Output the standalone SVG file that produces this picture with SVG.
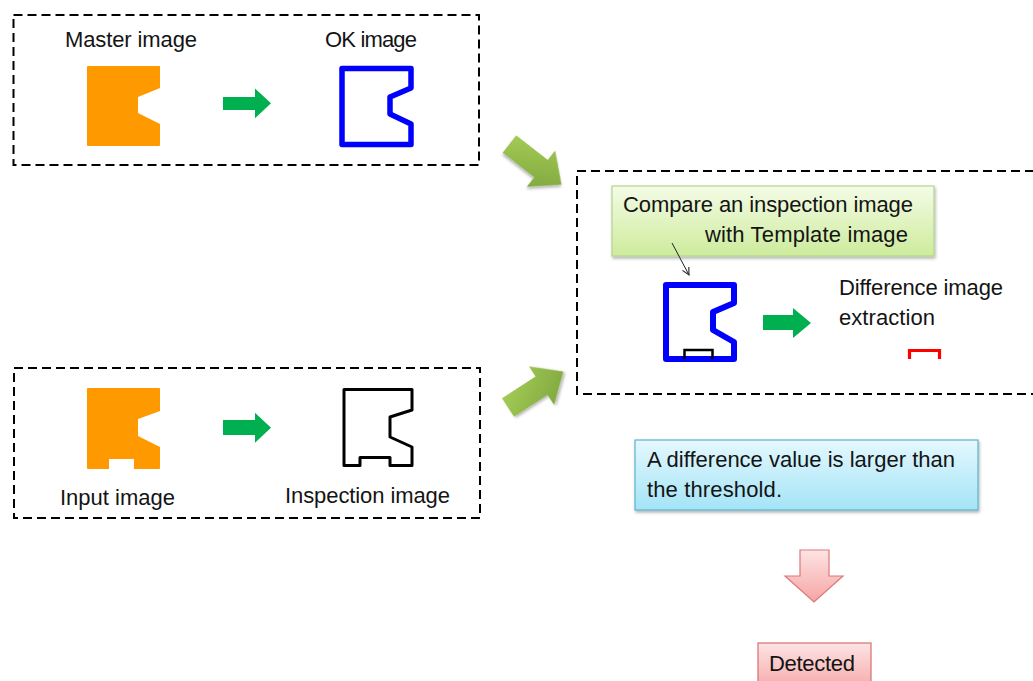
<svg xmlns="http://www.w3.org/2000/svg" width="1033" height="681" viewBox="0 0 1033 681">
  <style>
    .lbl { font-family: "Liberation Sans", Arial, sans-serif; font-size: 22px; fill: #141414; }
    .frame { fill: none; stroke: #000; stroke-width: 2; stroke-dasharray: 9 5; }
    .part { fill: #ff9900; }
    .flow { fill: #00b050; }
    .big { fill: url(#gGreen); filter: url(#soft); }
  </style>
  <defs>
    <linearGradient id="gGreen" x1="0" y1="0" x2="1" y2="1">
      <stop offset="0" stop-color="#a9d15a"/>
      <stop offset="1" stop-color="#79a13a"/>
    </linearGradient>
    <linearGradient id="gNote" x1="0" y1="0" x2="0" y2="1">
      <stop offset="0" stop-color="#f4fce6"/>
      <stop offset="1" stop-color="#cdeb9c"/>
    </linearGradient>
    <linearGradient id="gCyan" x1="0" y1="0" x2="0" y2="1">
      <stop offset="0" stop-color="#e4f8fe"/>
      <stop offset="1" stop-color="#a4e4f7"/>
    </linearGradient>
    <linearGradient id="gPink" x1="0" y1="0" x2="0" y2="1">
      <stop offset="0" stop-color="#fde4e4"/>
      <stop offset="1" stop-color="#f6a4a4"/>
    </linearGradient>
    <filter id="soft" x="-20%" y="-20%" width="140%" height="140%">
      <feDropShadow dx="1" dy="2" stdDeviation="1.5" flood-color="#000" flood-opacity="0.3"/>
    </filter>
    <marker id="open" viewBox="0 0 10 10" refX="9" refY="5" markerWidth="9" markerHeight="9" orient="auto" markerUnits="userSpaceOnUse">
      <path d="M1,1 L9,5 L1,9" fill="none" stroke="#222" stroke-width="1.2"/>
    </marker>
  </defs>

  <!-- template preparation panel -->
  <g id="panel-template">
    <rect class="frame" x="13.5" y="15" width="465.5" height="150"/>
    <g id="master-image">
      <text class="lbl" x="65" y="47" textLength="132">Master image</text>
      <path class="part" d="M88,66 H159.5 Q160,66 160,67 V88 L138,97 V113 L160,124 V145 Q160,146 159,146 H88 Q87,146 87,145 V67 Q87,66 88,66 Z"/>
    </g>
    <g id="ok-image">
      <text class="lbl" x="325" y="47" textLength="92">OK image</text>
      <path d="M342,68.5 H411 V88 L390,97 V114 L411,124 V144.5 H342 Z" fill="none" stroke="#0000ff" stroke-width="5.5" stroke-linejoin="round"/>
    </g>
  </g>

  <!-- inspection input panel -->
  <g id="panel-input">
    <rect class="frame" x="14" y="368" width="466" height="150"/>
    <g id="input-image">
      <path class="part" d="M88,388 H159 Q160,388 160,389 V411 L138,419 V436 L160,447 V468 Q160,469 159,469 H134 V459 H109 V469 H88 Q87,469 87,468 V389 Q87,388 88,388 Z"/>
      <text class="lbl" x="60" y="505" textLength="115">Input image</text>
    </g>
    <g id="inspection-image">
      <path d="M344,389.5 H412 V410 L390,417 V437 L412,447 V465.5 H390 V457.5 H360 V465.5 H344 Z" fill="none" stroke="#000" stroke-width="3" stroke-linejoin="round"/>
      <text class="lbl" x="285" y="503" textLength="165">Inspection image</text>
    </g>
  </g>

  <!-- comparison panel -->
  <g id="panel-compare">
    <rect class="frame" x="577" y="171" width="470" height="223"/>
    <g id="compare-note">
      <rect x="612" y="186" width="322" height="70" fill="url(#gNote)" stroke="#b3d68a" stroke-width="1.2" filter="url(#soft)"/>
      <text class="lbl" x="623" y="212" textLength="290">Compare an inspection image</text>
      <text class="lbl" x="705" y="242" textLength="203">with Template image</text>
    </g>
    <g id="template-image">
      <path d="M666,285 H734 V303 L713,312 V330 L734,342 V359 H666 Z" fill="none" stroke="#0000ff" stroke-width="6" stroke-linejoin="round"/>
      <path d="M684.5,359 V350 H712.5 V359" fill="none" stroke="#000" stroke-width="2.5"/>
    </g>
    <g id="difference-image">
      <text class="lbl" x="839" y="295" textLength="164">Difference image</text>
      <text class="lbl" x="839" y="325" textLength="96">extraction</text>
      <path d="M909.5,359 V350.5 H939.5 V359" fill="none" stroke="#ff0000" stroke-width="3.2"/>
    </g>
  </g>

  <!-- threshold condition -->
  <g id="threshold">
    <rect x="635" y="440" width="343" height="70" fill="url(#gCyan)" stroke="#5db3cc" stroke-width="1.2" filter="url(#soft)"/>
    <text class="lbl" x="647" y="467" textLength="308">A difference value is larger than</text>
    <text class="lbl" x="647" y="497" textLength="135">the threshold.</text>
  </g>

  <!-- result -->
  <g id="detected">
    <rect x="758" y="643" width="113" height="50" fill="url(#gPink)" stroke="#d86e6e" stroke-width="1.2"/>
    <text class="lbl" x="769" y="671" textLength="86">Detected</text>
  </g>

  <!-- flow arrows -->
  <g id="connectors">
    <path class="flow" d="M223,97 H255 V88.5 L271,103.3 L255,118.3 V110 H223 Z"/>
    <path class="flow" d="M223,420 H255 V412.7 L271,427.7 L255,442.7 V435 H223 Z"/>
    <path class="flow" d="M763,315 H793 V308 L811,323 L793,338 V330 H763 Z"/>
    <path class="big" transform="translate(509.5,144) rotate(38)" d="M0,-11 H40 V-23 L66,0 L40,23 V11 H0 Z"/>
    <path class="big" transform="translate(508,407.5) rotate(-33)" d="M0,-11 H40 V-23 L66,0 L40,23 V11 H0 Z"/>
    <line x1="672" y1="243" x2="689" y2="275" stroke="#222" stroke-width="1" marker-end="url(#open)"/>
    <path d="M800,550 H829 V576 H843 L814,602 L785,576 H800 Z" fill="url(#gPink)" stroke="#dc7878" stroke-width="1.2"/>
  </g>
</svg>
